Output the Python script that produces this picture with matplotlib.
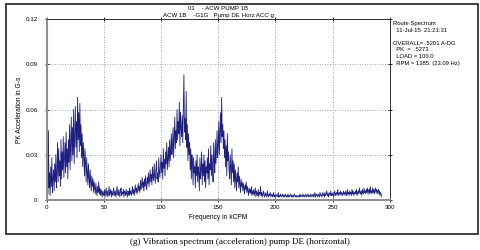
import numpy as np
import matplotlib
matplotlib.use("Agg")
import matplotlib.pyplot as plt
from matplotlib.patches import Rectangle

# espectro de aceleracao, valores em milesimos de g, passo de 0.5 kCPM
freq_start = 0
freq_step = 0.5
amp_milli_g = [
    1, 15, 4, 46, 8, 18, 3, 22, 9, 28, 5, 14, 20, 6, 24, 12, 30, 8, 18, 38,
    12, 34, 16, 26, 9, 40, 14, 32, 20, 42, 15, 28, 38, 18, 45, 22, 34, 14, 40, 25,
    50, 20, 36, 55, 26, 48, 30, 60, 24, 44, 62, 35, 52, 28, 68, 40, 58, 32, 64, 36,
    50, 28, 44, 22, 38, 30, 16, 34, 24, 12, 28, 18, 10, 24, 15, 8, 20, 12, 6, 16,
    9, 14, 5, 12, 8, 4, 11, 6, 3, 9, 5, 12, 4, 8, 3, 7, 5, 2, 6, 4,
    3, 7, 2, 5, 8, 3, 6, 2, 4, 9, 3, 5, 7, 2, 6, 4, 3, 8, 5, 3,
    6, 2, 5, 9, 4, 3, 7, 5, 2, 6, 8, 3, 5, 4, 7, 2, 6, 5, 3, 7,
    4, 2, 6, 5, 3, 8, 4, 6, 3, 5, 9, 4, 7, 3, 6, 10, 5, 8, 4, 7,
    11, 6, 9, 5, 13, 7, 10, 15, 8, 12, 6, 14, 9, 16, 10, 7, 15, 11, 18, 9,
    14, 20, 12, 17, 10, 22, 15, 13, 24, 16, 11, 20, 26, 14, 18, 12, 28, 19, 15, 23,
    30, 18, 25, 14, 34, 21, 27, 16, 32, 24, 38, 20, 28, 35, 22, 40, 26, 33, 44, 30,
    36, 48, 28, 42, 55, 34, 46, 38, 60, 40, 52, 44, 65, 36, 58, 48, 42, 56, 38, 62,
    83, 45, 54, 40, 72, 35, 50, 26, 44, 30, 38, 20, 34, 14, 30, 24, 10, 28, 18, 22,
    8, 26, 16, 30, 12, 22, 18, 6, 28, 14, 20, 32, 10, 24, 16, 30, 12, 26, 8, 22,
    18, 28, 14, 34, 10, 24, 20, 36, 16, 30, 22, 12, 38, 26, 18, 40, 24, 32, 46, 28,
    36, 52, 30, 44, 58, 38, 68, 42, 50, 34, 46, 28, 40, 22, 36, 16, 44, 26, 32, 20,
    14, 30, 22, 10, 34, 18, 26, 12, 24, 8, 20, 14, 6, 18, 12, 22, 8, 16, 10, 5,
    14, 9, 12, 6, 11, 8, 4, 10, 7, 12, 5, 9, 6, 3, 8, 5, 7, 4, 9, 3,
    6, 4, 7, 3, 5, 8, 2, 6, 4, 3, 7, 2, 5, 4, 9, 3, 5, 2, 4, 6,
    3, 2, 5, 3, 4, 2, 6, 3, 2, 4, 3, 5, 2, 3, 4, 2, 3, 5, 2, 3,
    2, 4, 3, 2, 3, 5, 2, 3, 2, 4, 3, 2, 3, 4, 2, 3, 2, 4, 3, 2,
    3, 2, 4, 2, 3, 2, 3, 4, 2, 3, 2, 3, 2, 4, 3, 2, 3, 2, 3, 2,
    2, 3, 2, 4, 2, 3, 3, 2, 4, 3, 2, 3, 2, 4, 3, 2, 3, 4, 2, 3,
    3, 2, 4, 3, 2, 3, 4, 2, 3, 5, 2, 3, 4, 3, 2, 4, 3, 2, 5, 3,
    4, 2, 3, 5, 3, 4, 2, 5, 3, 4, 6, 3, 4, 2, 5, 4, 3, 6, 3, 4,
    3, 5, 2, 4, 6, 3, 4, 5, 3, 7, 4, 3, 5, 4, 6, 3, 5, 4, 3, 6,
    4, 5, 3, 6, 4, 3, 7, 4, 5, 3, 6, 4, 5, 3, 7, 4, 6, 3, 5, 4,
    6, 4, 7, 3, 5, 6, 4, 8, 5, 4, 6, 3, 7, 5, 4, 8, 5, 6, 4, 7,
    5, 8, 4, 6, 7, 4, 9, 5, 6, 4, 8, 5, 7, 4, 6, 8, 5, 7, 4, 6,
    7, 4, 6, 3, 5, 4, 2,
]

x_ticks = [0, 50, 100, 150, 200, 250, 300]
y_ticks = [0, 0.03, 0.06, 0.09, 0.12]
y_tick_labels = ["0", "0.03", "0.06", "0.09", "0.12"]

title_lines = ["01    - ACW PUMP 1B", "ACW 1B    -G1G   Pump DE Horz ACC g"]
info_lines = ["Route Spectrum", "  11-Jul-15  21:21:31", "",
              "OVERALL= .5201 A-DG", "  PK  =  .5273", "  LOAD = 100.0",
              "  RPM = 1385. (23.09 Hz)"]
caption = "(g) Vibration spectrum (acceleration) pump DE (horizontal)"

amp = np.array(amp_milli_g) / 1000.0
freq = freq_start + freq_step * np.arange(len(amp))

plt.rcParams['font.family'] = ['Liberation Sans', 'DejaVu Sans']

fig = plt.figure(figsize=(4.8, 2.5), dpi=100)
fig.patch.set_facecolor("white")

# moldura externa
fig.patches.append(Rectangle((6 / 480, 16 / 250), 472 / 480, 230 / 250,
                             transform=fig.transFigure, fill=False,
                             edgecolor="#222222", linewidth=1.2))

ax = fig.add_axes([0.0973, 0.2, 0.7146, 0.724])
ax.plot(freq, amp, color="#1f1f80", linewidth=0.6)

ax.set_xlim(0, 300)
ax.set_ylim(0, 0.12)
ax.set_xticks(x_ticks)
ax.set_xticklabels([str(v) for v in x_ticks])
ax.set_yticks(y_ticks)
ax.set_yticklabels(y_tick_labels)
ax.grid(True, color="#888888", linestyle=(0, (1, 2)), linewidth=0.6)
ax.tick_params(direction="inout", length=3, width=0.6, labelsize=4.5,
               top=True, right=True)
ax.tick_params(axis="y", pad=5)
ax.tick_params(axis="x", pad=2)

for s in ["left", "bottom"]:
    ax.spines[s].set_color("#909090")
    ax.spines[s].set_linewidth(1.5)
for s in ["top", "right"]:
    ax.spines[s].set_color("#333333")
    ax.spines[s].set_linewidth(0.7)

ax.set_xlabel("Frequency in kCPM", fontsize=4.8, labelpad=3)
ax.set_ylabel("PK Acceleration in G-s", fontsize=4.8, labelpad=2)

# titulo centrado sobre o eixo
ax.text(0.5, 1 + 11 / 181, title_lines[0], transform=ax.transAxes,
        ha="center", va="center", fontsize=4.4)
ax.text(0.5, 1 + 4 / 181, title_lines[1], transform=ax.transAxes,
        ha="center", va="center", fontsize=4.4)

fig.text(393 / 480, 1 - 21 / 250, "\n".join(info_lines), ha="left", va="top",
         fontsize=4.2, linespacing=1.4)

fig.text(0.5, 1 - 242 / 250, caption, ha="center", va="center",
         fontsize=6.6, family="Liberation Serif")

fig.savefig("out.png", dpi=100)
